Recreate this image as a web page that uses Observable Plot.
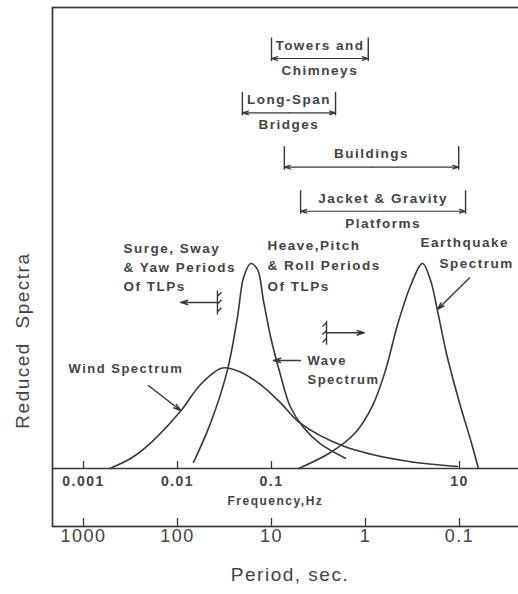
<!DOCTYPE html>
<html>
<head>
<meta charset="utf-8">
<script src="https://cdn.jsdelivr.net/npm/d3@7"></script>
<script src="https://cdn.jsdelivr.net/npm/@observablehq/plot@0.6"></script>
<style>
  html, body { margin: 0; padding: 0; background: #fff; overflow: hidden; }
  #chart svg { overflow: hidden; }
  #chart text { letter-spacing: 1.5px; }
</style>
</head>
<body>
<div id="chart"></div>
<script>
// Reduced spectral ordinates against frequency (Hz) for each environmental load
const windFreq = [0.0019, 0.0032, 0.0052, 0.0108, 0.0176, 0.030, 0.047, 0.076, 0.125, 0.204, 0.58, 2.4, 9.5];
const windSpec = [0.0, 0.05, 0.125, 0.28, 0.41, 0.49, 0.47, 0.41, 0.32, 0.22, 0.11, 0.04, 0.01];
const waveFreq = [0.0148, 0.0224, 0.034, 0.0435, 0.0504, 0.060, 0.071, 0.082, 0.098, 0.124, 0.159, 0.219, 0.332, 0.612];
const waveSpec = [0.03, 0.22, 0.48, 0.74, 0.93, 1.0, 0.97, 0.82, 0.64, 0.46, 0.30, 0.20, 0.12, 0.05];
const quakeFreq = [0.194, 0.424, 0.783, 1.19, 1.63, 2.19, 3.01, 4.04, 4.91, 5.83, 7.45, 10.3, 13.1, 15.9];
const quakeSpec = [0.0, 0.078, 0.176, 0.307, 0.478, 0.70, 0.89, 1.0, 0.92, 0.77, 0.54, 0.30, 0.14, 0.0];

// Natural-frequency bands of typical structures (Hz)
const structTop = ["Towers and", "Long-Span", "Buildings", "Jacket & Gravity"];
const structBottom = ["Chimneys", "Bridges", "", "Platforms"];
const bandLow = [0.1, 0.049, 0.137, 0.204];
const bandHigh = [1.07, 0.48, 9.8, 11.6];

// TLP motion limits (Hz): surge/sway/yaw below, heave/pitch/roll above
const tlpSurgeLimit = 0.0266;
const tlpHeaveLimit = 0.385;

// Axis ticks
const freqTicks = [0.001, 0.01, 0.1, 10];
const freqTickLabels = ["0.001", "0.01", "0.1", "10"];
const periodTicks = [1000, 100, 10, 1, 0.1];
const periodTickLabels = ["1000", "100", "10", "1", "0.1"];

const series = (f, s) => f.map((v, i) => ({f: v, s: s[i]}));

// rows (in spectrum units) on which the structure bands are stacked
const bandRows = [2.0, 1.735, 1.47, 1.255];
const bands = structTop.map((t, i) => ({
  top: t, bottom: structBottom[i], lo: bandLow[i], hi: bandHigh[i], row: bandRows[i]
}));
const mid = d => Math.sqrt(d.lo * d.hi);

const ink = "#383838";
const textInk = "#444";
const bold = {fontWeight: "bold", fontSize: 13.5, fill: textInk};

// a fixed "wall" with hatching, used to mark TLP period limits
const wall = side => ({
  draw(context, size) {
    const h = Math.sqrt(size / Math.PI);
    context.moveTo(0, -h);
    context.lineTo(0, h);
    for (const t of [-0.85, -0.2, 0.45]) {
      const y = t * h;
      context.moveTo(0, y + (side < 0 ? 0 : 4));
      context.lineTo(side * 4, y + (side < 0 ? 4 : 0));
    }
  }
});

const arrowStyle = {stroke: ink, strokeWidth: 1.4, headLength: 8, headAngle: 34};
const curveStyle = {x: "f", y: "s", curve: "catmull-rom", stroke: ink, strokeWidth: 1.6};

const chart = Plot.plot({
  width: 518,
  height: 594,
  marginLeft: 52,
  marginTop: 7,
  marginBottom: 68,
  marginRight: -3,
  style: {fontFamily: "'Liberation Sans', Arial, sans-serif", background: "#fff", color: ink},
  x: {type: "log", domain: [0.001, 10], range: [83, 459], axis: null},
  y: {domain: [0, 1], range: [468, 263], axis: null},
  marks: [
    Plot.frame({stroke: ink, strokeWidth: 1.7}),
    Plot.ruleY([0], {stroke: ink, strokeWidth: 1.5}),

    // frequency axis on the baseline
    Plot.ruleX(freqTicks, {x: d => d, y1: 0, y2: 0.034, stroke: ink, strokeWidth: 1.3}),
    Plot.text(freqTicks, {x: d => d, y: 0, dy: 13, text: (d, i) => freqTickLabels[i], fontSize: 14, fontWeight: "bold", fill: textInk}),
    Plot.text(["Frequency,Hz"], {x: 0.11, y: 0, dy: 33, text: d => d, fontSize: 12, fontWeight: "bold", fill: textInk}),

    // period axis along the bottom
    Plot.ruleX(periodTicks, {x: d => 1 / d, insetTop: 511, stroke: ink, strokeWidth: 1.3}),
    Plot.text(periodTicks, {x: d => 1 / d, frameAnchor: "bottom", dy: 15, text: (d, i) => periodTickLabels[i], fontSize: 18, fill: textInk}),
    Plot.text(["Period, sec."], {frameAnchor: "bottom", dx: 3, dy: 54, text: d => d, fontSize: 19, fill: textInk}),
    Plot.text(["Reduced\u00a0 Spectra"], {frameAnchor: "left", y: 0.624, dx: -30, rotate: -90, textAnchor: "middle", text: d => d, fontSize: 19, fill: textInk}),

    // spectra
    Plot.line(series(windFreq, windSpec), curveStyle),
    Plot.line(series(waveFreq, waveSpec), curveStyle),
    Plot.line(series(quakeFreq, quakeSpec), curveStyle),

    // structure frequency bands
    Plot.ruleX(bands, {x: "lo", y1: d => d.row - 0.015, y2: d => d.row + 0.1, stroke: ink, strokeWidth: 1.4}),
    Plot.ruleX(bands, {x: "hi", y1: d => d.row - 0.015, y2: d => d.row + 0.1, stroke: ink, strokeWidth: 1.4}),
    Plot.arrow(bands, {x1: mid, x2: "lo", y: "row", ...arrowStyle, strokeWidth: 1.2}),
    Plot.arrow(bands, {x1: mid, x2: "hi", y: "row", ...arrowStyle, strokeWidth: 1.2}),
    Plot.text(bands, {x: mid, y: "row", dy: -13, text: "top", ...bold}),
    Plot.text(bands, {x: mid, y: "row", dy: 12, text: "bottom", ...bold}),

    // TLP period limits
    Plot.dot([tlpSurgeLimit], {x: d => d, y: 0.81, r: 12, symbol: wall(1), fill: "none", stroke: ink, strokeWidth: 1.4}),
    Plot.arrow([tlpSurgeLimit], {x1: d => d, x2: 0.0108, y: 0.81, ...arrowStyle}),
    Plot.dot([tlpHeaveLimit], {x: d => d, y: 0.662, r: 12, symbol: wall(-1), fill: "none", stroke: ink, strokeWidth: 1.4}),
    Plot.arrow([tlpHeaveLimit], {x1: d => d, x2: 0.97, y: 0.662, ...arrowStyle}),
    Plot.text(["Surge, Sway\n& Yaw Periods\nOf TLPs"], {x: 0.00267, y: 0.99, text: d => d, textAnchor: "start", lineHeight: 1.42, ...bold}),
    Plot.text(["Heave,Pitch\n& Roll Periods\nOf TLPs"], {x: 0.0906, y: 0.998, text: d => d, textAnchor: "start", lineHeight: 1.5, ...bold}),

    // spectrum labels with pointers
    Plot.text(["Wind Spectrum"], {x: 0.000692, y: 0.488, text: d => d, textAnchor: "start", ...bold, fontSize: 13}),
    Plot.arrow([0], {x1: 0.0049, y1: 0.405, x2: 0.0108, y2: 0.283, ...arrowStyle}),
    Plot.text(["Wave\nSpectrum"], {x: 0.2415, y: 0.488, text: d => d, textAnchor: "start", lineHeight: 1.5, ...bold, fontSize: 13}),
    Plot.arrow([0], {x1: 0.204, x2: 0.105, y: 0.527, ...arrowStyle}),
    Plot.text(["Earthquake"], {x: 3.85, y: 1.102, text: d => d, textAnchor: "start", ...bold}),
    Plot.text(["Spectrum"], {x: 6.12, y: 1.0, text: d => d, textAnchor: "start", ...bold}),
    Plot.arrow([0], {x1: 12.8, y1: 0.93, x2: 5.83, y2: 0.776, ...arrowStyle})
  ]
});

document.getElementById("chart").appendChild(chart);
</script>
</body>
</html>
